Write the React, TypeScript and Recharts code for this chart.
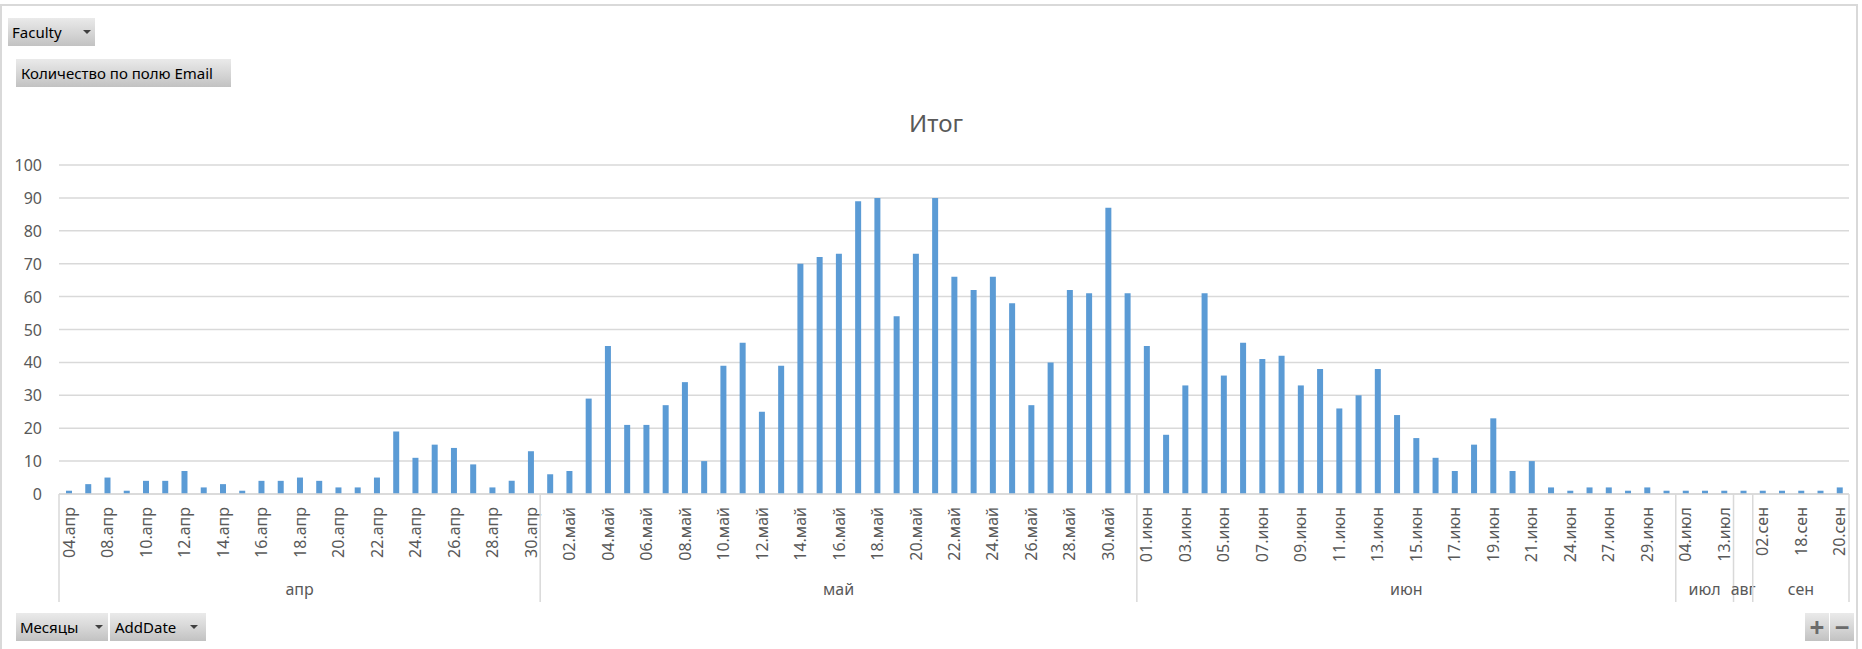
import React from "react";
import { BarChart, Bar, XAxis, YAxis, CartesianGrid } from "recharts";

// ---- data ----
const aprDates = ["04.апр","06.апр","08.апр","09.апр","10.апр","11.апр","12.апр","13.апр","14.апр","15.апр","16.апр","17.апр","18.апр","19.апр","20.апр","21.апр","22.апр","23.апр","24.апр","25.апр","26.апр","27.апр","28.апр","29.апр","30.апр"];
const aprValues = [1,3,5,1,4,4,7,2,3,1,4,4,5,4,2,2,5,19,11,15,14,9,2,4,13];

const mayDates = ["01.май","02.май","03.май","04.май","05.май","06.май","07.май","08.май","09.май","10.май","11.май","12.май","13.май","14.май","15.май","16.май","17.май","18.май","19.май","20.май","21.май","22.май","23.май","24.май","25.май","26.май","27.май","28.май","29.май","30.май","31.май"];
const mayValues = [6,7,29,45,21,21,27,34,10,39,46,25,39,70,72,73,89,90,54,73,90,66,62,66,58,27,40,62,61,87,61];

const junDates = ["01.июн","02.июн","03.июн","04.июн","05.июн","06.июн","07.июн","08.июн","09.июн","10.июн","11.июн","12.июн","13.июн","14.июн","15.июн","16.июн","17.июн","18.июн","19.июн","20.июн","21.июн","23.июн","24.июн","26.июн","27.июн","28.июн","29.июн","30.июн"];
const junValues = [45,18,33,61,36,46,41,42,33,38,26,30,38,24,17,11,7,15,23,7,10,2,1,2,2,1,2,1];

const julDates = ["04.июл","09.июл","13.июл"];
const julValues = [1,1,1];

const augDates = ["20.авг"];
const augValues = [1];

const sepDates = ["02.сен","10.сен","18.сен","19.сен","20.сен"];
const sepValues = [1,1,1,1,2];

const monthNames = ["апр","май","июн","июл","авг","сен"];
const yTicks = [0,10,20,30,40,50,60,70,80,90,100];

const months = [
  { name: monthNames[0], dates: aprDates, values: aprValues },
  { name: monthNames[1], dates: mayDates, values: mayValues },
  { name: monthNames[2], dates: junDates, values: junValues },
  { name: monthNames[3], dates: julDates, values: julValues },
  { name: monthNames[4], dates: augDates, values: augValues },
  { name: monthNames[5], dates: sepDates, values: sepValues },
];

type Row = { date: string; value: number; month: string; monthStart: boolean; span: number };
const data: Row[] = [];
months.forEach((m) => {
  m.dates.forEach((d, i) => {
    data.push({ date: d, value: m.values[i], month: m.name, monthStart: i === 0, span: m.dates.length });
  });
});

// ---- layout ----
const W = 1862;
const H = 649;
const PLOT_TOP = 165;
const PLOT_LEFT = 59;
const PLOT_RIGHT = 1849;
const PLOT_BOTTOM = 494;
const N = data.length;
const STEP = (PLOT_RIGHT - PLOT_LEFT) / N;
const GRID = "#d9d9d9";
const TEXT = "#595959";
const FONT = '"Noto Sans", "DejaVu Sans", sans-serif';

const DateTick = (props: any) => {
  const { x, y, index, payload } = props;
  const row = data[index];
  if (!row) return null;
  const base = y;
  const els: React.ReactNode[] = [];
  if (index % 2 === 0) {
    els.push(
      <text
        key="t"
        transform={`translate(${x},${base + 13}) rotate(-90)`}
        textAnchor="end"
        dominantBaseline="central"
        fontSize={16}
        fontFamily={FONT}
        fill={TEXT}
      >
        {payload.value}
      </text>
    );
  }
  if (row.monthStart) {
    const lx = x - STEP / 2;
    els.push(<line key="s" x1={lx} x2={lx} y1={base} y2={base + 108} stroke={GRID} strokeWidth={1.5} />);
    els.push(
      <text
        key="m"
        x={x + ((row.span - 1) * STEP) / 2}
        y={base + 101}
        textAnchor="middle"
        fontSize={16}
        fontFamily={FONT}
        fill={TEXT}
      >
        {row.month}
      </text>
    );
  }
  if (index === N - 1) {
    const rx = x + STEP / 2;
    els.push(<line key="r" x1={rx} x2={rx} y1={base} y2={base + 108} stroke={GRID} strokeWidth={1.5} />);
  }
  return <g>{els}</g>;
};

const ValueTick = (props: any) => {
  const { x, y, payload } = props;
  return (
    <text x={x} y={y} textAnchor="end" dominantBaseline="central" fontSize={16} fontFamily={FONT} fill={TEXT}>
      {payload.value}
    </text>
  );
};

const btn: React.CSSProperties = {
  position: "absolute",
  background: "linear-gradient(to bottom, #eaeaea 0%, #d3d3d3 60%, #c2c2c2 100%)",
  display: "flex",
  alignItems: "center",
  fontFamily: FONT,
  fontSize: 15,
  color: "#000",
  boxSizing: "border-box",
  height: 28,
};

const Arrow = ({ left }: { left: number }) => (
  <div
    style={{
      position: "absolute",
      left,
      top: 12,
      width: 0,
      height: 0,
      borderLeft: "4px solid transparent",
      borderRight: "4px solid transparent",
      borderTop: "4px solid #404040",
    }}
  />
);

export default function App() {
  return (
    <div style={{ position: "absolute", left: 0, top: 0, width: W, height: H, background: "#fff", overflow: "hidden", fontFamily: FONT }}>
      <div style={{ position: "absolute", left: 0, top: 4, width: 1858, height: 700, border: "2px solid #d9d9d9", boxSizing: "border-box" }} />
      <div style={{ ...btn, left: 8, top: 18, width: 87, paddingLeft: 4 }}>
        Faculty
        <Arrow left={75} />
      </div>
      <div style={{ ...btn, left: 16, top: 59, width: 215, paddingLeft: 5 }}>Количество по полю Email</div>
      <div
        style={{
          position: "absolute",
          left: 736,
          width: 400,
          top: 111,
          textAlign: "center",
          fontSize: 24,
          lineHeight: "24px",
          color: TEXT,
          fontFamily: FONT,
        }}
      >
        Итог
      </div>
      <div style={{ position: "absolute", left: 0, top: 0 }}>
        <BarChart
          width={W}
          height={H}
          data={data}
          margin={{ top: PLOT_TOP, right: W - PLOT_RIGHT, bottom: 0, left: 0 }}
          barCategoryGap={0}
        >
          <CartesianGrid vertical={false} stroke={GRID} strokeWidth={1.5} />
          <YAxis
            width={PLOT_LEFT}
            domain={[0, 100]}
            ticks={yTicks}
            axisLine={false}
            tickLine={false}
            tickSize={0}
            tickMargin={17}
            tick={<ValueTick />}
            interval={0}
          />
          <XAxis
            dataKey="date"
            interval={0}
            height={H - PLOT_BOTTOM}
            axisLine={{ stroke: GRID, strokeWidth: 1.5 }}
            tickLine={false}
            tickSize={0}
            tickMargin={0}
            tick={<DateTick />}
          />
          <Bar dataKey="value" fill="#5B9BD5" barSize={6} isAnimationActive={false} />
        </BarChart>
      </div>
      <div style={{ ...btn, left: 16, top: 613, width: 92, paddingLeft: 4 }}>
        Месяцы
        <Arrow left={79} />
      </div>
      <div style={{ ...btn, left: 110, top: 613, width: 96, paddingLeft: 5 }}>
        AddDate
        <Arrow left={80} />
      </div>
      <div style={{ ...btn, left: 1805, top: 613, width: 24, justifyContent: "center", fontSize: 26, fontWeight: 700, color: "#6b6b6b" }}>+</div>
      <div style={{ ...btn, left: 1830, top: 613, width: 24, justifyContent: "center", fontSize: 26, fontWeight: 700, color: "#6b6b6b" }}>−</div>
    </div>
  );
}
